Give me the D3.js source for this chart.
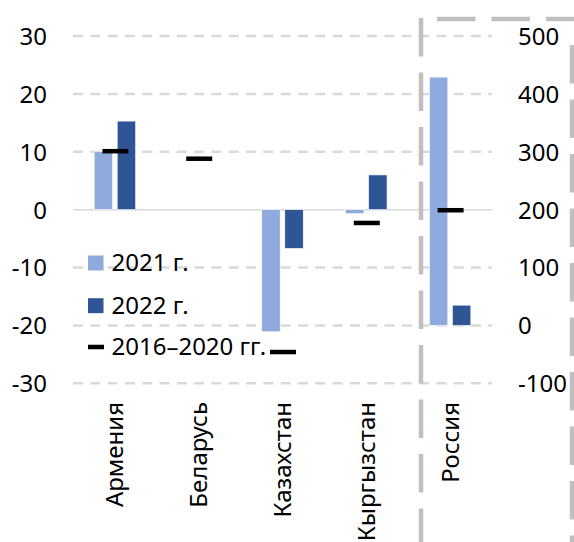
<!DOCTYPE html>
<html>
<head>
<meta charset="utf-8">
<script src="https://cdn.jsdelivr.net/npm/d3@7/dist/d3.min.js"></script>
<style>
  html, body { margin: 0; padding: 0; background: #fff; }
  svg text { font-family: "Noto Sans", "Open Sans", sans-serif; fill: #000; }
</style>
</head>
<body>
<svg id="chart" width="574" height="542"></svg>
<script>
// Countries (left axis) and Russia (right axis)
const categories = ["Армения", "Беларусь", "Казахстан", "Кыргызстан", "Россия"];
const values2021 = [10.0, null, -21.1, -0.7, 429];
const values2022 = [15.3, null, -6.7, 6.0, 35];
const avg2016_2020 = [10.1, 8.8, -24.6, -2.3, 199];
const rightAxisCategory = "Россия";

const leftTicks = [-30, -20, -10, 0, 10, 20, 30];
const rightTicks = [-100, 0, 100, 200, 300, 400, 500];
const legendLabels = ["2021 г.", "2022 г.", "2016–2020 гг."];

const colors = { y2021: "#8faadc", y2022: "#2f5597", avg: "#000000", grid: "#d9d9d9", frame: "#c0c0c0" };

const svg = d3.select("#chart");
const plot = { left: 73, right: 492, top: 36, bottom: 383.3 };

const x = d3.scaleBand().domain(categories).range([plot.left, plot.right]).padding(0);
const yL = d3.scaleLinear().domain([-30, 30]).range([plot.bottom, plot.top]);
const yR = d3.scaleLinear().domain([-100, 500]).range([plot.bottom, plot.top]);
const yFor = c => (c === rightAxisCategory ? yR : yL);

const groupW = x.bandwidth() * 0.495;
const xSub = d3.scaleBand().domain(["2021", "2022"])
  .range([(x.bandwidth() - groupW) / 2, (x.bandwidth() + groupW) / 2])
  .paddingInner(0.2);

// gridlines
const grid = svg.append("g");
leftTicks.forEach(t => {
  grid.append("line")
    .attr("x1", plot.left).attr("x2", plot.right)
    .attr("y1", yL(t)).attr("y2", yL(t))
    .attr("stroke", colors.grid)
    .attr("stroke-width", t === 0 ? 1.5 : 2.5)
    .attr("stroke-dasharray", t === 0 ? null : "10,7.3");
});

// axes (labels only), plain hyphen for negatives
const fmt = d => String(d);
const axisL = d3.axisLeft(yL).tickValues(leftTicks).tickFormat(fmt).tickSize(0).tickPadding(0);
const gL = svg.append("g").attr("transform", "translate(47,0)").call(axisL);
gL.select(".domain").remove();
gL.selectAll("text").style("font-size", "24px").attr("dy", "0.35em");

const axisR = d3.axisRight(yR).tickValues(rightTicks).tickFormat(fmt).tickSize(0).tickPadding(0);
const gR = svg.append("g").attr("transform", "translate(518,0)").call(axisR);
gR.select(".domain").remove();
gR.selectAll("text").style("font-size", "24px").attr("dy", "0.35em");

// bars
const bars = svg.append("g");
function drawBars(vals, key, color) {
  categories.forEach((c, i) => {
    const v = vals[i];
    if (v === null) return;
    const y = yFor(c);
    bars.append("rect")
      .attr("x", x(c) + xSub(key))
      .attr("width", xSub.bandwidth())
      .attr("y", Math.min(y(0), y(v)))
      .attr("height", Math.abs(y(v) - y(0)))
      .attr("fill", color)
      .attr("stroke", "#ffffff").attr("stroke-width", 0.6);
  });
}
drawBars(values2021, "2021", colors.y2021);
drawBars(values2022, "2022", colors.y2022);

// 2016–2020 average markers
const markW = 26, markH = 4.5;
categories.forEach((c, i) => {
  const y = yFor(c);
  svg.append("rect")
    .attr("x", x(c) + x.bandwidth() / 2 - markW / 2 + 0.5)
    .attr("y", y(avg2016_2020[i]) - markH / 2)
    .attr("width", markW).attr("height", markH)
    .attr("fill", colors.avg);
});

// category labels (rotated)
categories.forEach(c => {
  const cx = x(c) + x.bandwidth() / 2;
  svg.append("text")
    .attr("transform", `translate(${cx + 8.5},402) rotate(-90)`)
    .attr("text-anchor", "end")
    .style("font-size", "24px")
    .text(c);
});

// dashed frame around the Russia section
const frame = svg.append("g").attr("fill", "none").attr("stroke", colors.frame).attr("stroke-width", 4.5);
frame.append("line").attr("x1", 421).attr("x2", 421).attr("y1", 18).attr("y2", 542)
  .attr("stroke-dasharray", "38.5,16");
frame.append("line").attr("x1", 437).attr("x2", 574).attr("y1", 19).attr("y2", 19)
  .attr("stroke-dasharray", "38.5,16");
frame.append("line").attr("x1", 572).attr("x2", 572).attr("y1", 45).attr("y2", 542)
  .attr("stroke-dasharray", "38.5,16");

// legend
const legend = svg.append("g");
const rows = [263, 305.7, 347];
legendLabels.forEach((lab, i) => {
  const cy = rows[i];
  if (i < 2) {
    legend.append("rect").attr("x", 88).attr("y", cy - 7.5).attr("width", 15.5).attr("height", 15)
      .attr("fill", i === 0 ? colors.y2021 : colors.y2022);
  } else {
    legend.append("rect").attr("x", 88).attr("y", cy - 2.25).attr("width", 16).attr("height", 4.5)
      .attr("fill", colors.avg);
  }
  legend.append("text").attr("x", 111.5).attr("y", cy).attr("dy", "0.35em")
    .style("font-size", "24px").text(lab);
});
</script>
</body>
</html>
